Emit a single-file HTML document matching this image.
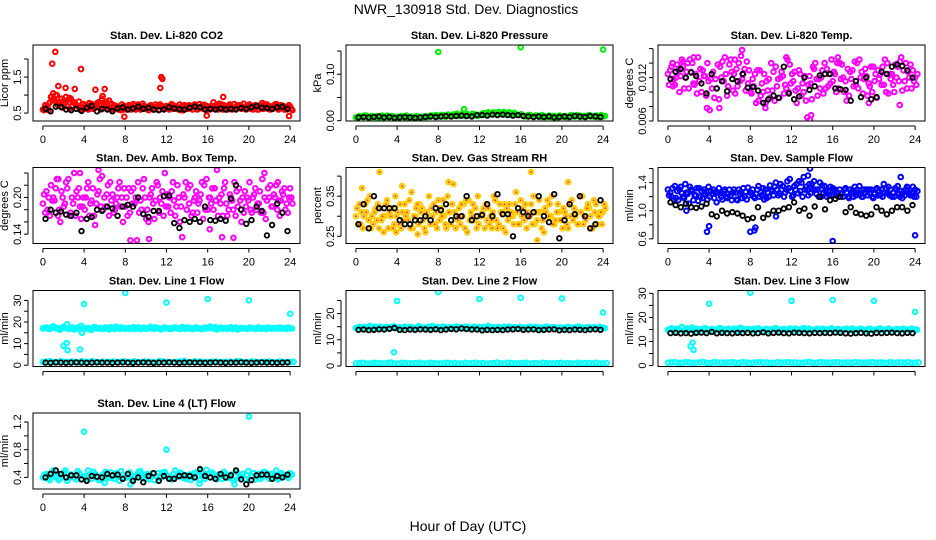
<!DOCTYPE html>
<html><head><meta charset="utf-8"><style>
html,body{margin:0;padding:0;background:#fff}
svg{display:block;font-family:"Liberation Sans",sans-serif}
</style></head><body>
<svg id="chart" width="936" height="540" viewBox="0 0 936 540">
<text x="466" y="14" font-size="14" text-anchor="middle">NWR_130918  Std. Dev. Diagnostics</text>
<text x="468" y="531" font-size="14" text-anchor="middle">Hour of Day (UTC)</text>
</svg>
<script>
// ---- data ----
const hourTicks = [0,4,8,12,16,20,24];
const co2Red = [0.6,0.65,0.8,0.9,1.0,0.75,0.85,0.7,0.9,0.8,0.7,0.65, 0.7,0.6,0.75,0.65,0.8,0.9,0.7,0.85,0.6,0.7,0.65,0.6, 0.6,0.7,0.75,0.65,0.6,0.7,0.65,0.72,0.6,0.68,0.7,0.62, 0.65,0.75,0.7,0.6,0.7,0.65,0.72,0.6,0.68,0.75,0.62,0.7, 0.6,0.8,0.7,0.65,0.72,0.6,0.68,0.75,0.7,0.62,0.65,0.7, 0.65,0.72,0.6,0.78,0.68,0.7,0.62,0.75,0.65,0.7,0.6,0.68];
const co2Red2 = [0.58,0.7,0.95,0.85,0.72,0.9,0.78,0.88,0.68,0.75,0.82,0.6, 0.65,0.78,0.62,0.7,0.74,0.66,0.8,0.62,0.72,0.66,0.58,0.7, 0.66,0.6,0.7,0.74,0.63,0.68,0.58,0.66,0.74,0.6,0.64,0.7, 0.6,0.68,0.62,0.74,0.58,0.7,0.64,0.72,0.6,0.66,0.73,0.6, 0.7,0.64,0.6,0.74,0.66,0.7,0.6,0.64,0.72,0.68,0.6,0.74, 0.6,0.66,0.72,0.62,0.74,0.6,0.7,0.64,0.72,0.6,0.66,0.62];
const co2Red3 = [0.72,0.58,0.85,1.0,0.8,0.65,0.95,0.62,0.8,0.7,0.6,0.75, 0.62,0.72,0.66,0.78,0.6,0.74,0.62,0.76,0.68,0.6,0.74,0.66, 0.72,0.64,0.6,0.7,0.76,0.62,0.7,0.6,0.68,0.74,0.62,0.66, 0.72,0.62,0.66,0.58,0.72,0.62,0.68,0.74,0.62,0.7,0.6,0.66, 0.64,0.72,0.76,0.6,0.68,0.74,0.62,0.7,0.64,0.76,0.68,0.62, 0.7,0.6,0.66,0.74,0.62,0.68,0.74,0.6,0.7,0.64,0.72,0.58];
const co2RedOutX = [1.2,0.9,3.7,11.5,11.6,11.4,3.1,2.2,1.5,5.1,6.0,7.9,15.9,23.9,17.5,0.8,1.0,2.6,5.8];
const co2RedOutY = [2.2,1.87,1.72,1.5,1.45,1.2,1.17,1.2,1.25,1.15,1.17,0.4,0.43,0.42,0.95,0.95,1.05,0.92,0.97];
const co2Black = [0.62,0.55,0.68,0.67,0.6,0.58,0.62,0.56,0.65,0.7,0.55,0.62,0.6,0.55,0.63,0.66,0.6,0.63,0.68,0.62,0.65,0.6,0.58,0.6,0.66,0.63,0.61,0.6,0.65,0.68,0.66,0.6,0.62,0.6,0.63,0.6,0.62,0.6,0.64,0.62,0.66,0.7,0.65,0.64,0.62,0.66,0.68,0.62];

const presGreen = [0.007,0.01,0.008,0.011,0.006,0.009,0.01,0.007,0.008,0.011,0.009,0.006, 0.008,0.01,0.007,0.006,0.009,0.005,0.008,0.007,0.01,0.009,0.011,0.012, 0.01,0.012,0.009,0.011,0.013,0.015,0.01,0.012,0.014,0.011,0.012,0.01, 0.013,0.016,0.018,0.014,0.017,0.019,0.016,0.014,0.018,0.015,0.013,0.012, 0.011,0.01,0.012,0.009,0.011,0.008,0.01,0.009,0.008,0.01,0.007,0.009, 0.01,0.008,0.012,0.009,0.011,0.01,0.008,0.012,0.009,0.011,0.01,0.009];
const presGreen2 = [0.006,0.009,0.011,0.007,0.01,0.008,0.006,0.011,0.009,0.007,0.01,0.008, 0.006,0.009,0.011,0.008,0.007,0.01,0.006,0.009,0.008,0.011,0.01,0.009, 0.012,0.009,0.013,0.01,0.011,0.012,0.014,0.01,0.012,0.015,0.013,0.012, 0.016,0.014,0.015,0.018,0.013,0.016,0.019,0.015,0.014,0.017,0.012,0.014, 0.009,0.012,0.01,0.011,0.009,0.012,0.008,0.011,0.01,0.008,0.011,0.009, 0.008,0.011,0.009,0.012,0.008,0.01,0.011,0.009,0.01,0.008,0.012,0.01];
const presGreenOutX = [8,16,24,10.5];
const presGreenOutY = [0.148,0.158,0.153,0.025];
const presBlack = [0.007,0.008,0.007,0.008,0.009,0.007,0.008,0.006,0.007,0.008,0.007,0.006,0.007,0.008,0.009,0.008,0.009,0.01,0.009,0.01,0.011,0.01,0.009,0.012,0.012,0.011,0.013,0.012,0.013,0.012,0.011,0.012,0.01,0.009,0.008,0.009,0.008,0.009,0.007,0.008,0.009,0.008,0.01,0.009,0.008,0.01,0.009,0.008];

const tempMag = [.0125,.0135,.011,.013,.0145,.012,.0105,.014,.0125,.0115,.013,.0095, .0075,.0128,.0105,.0135,.0115,.0095,.0145,.0125,.0108,.015,.0132,.0112, .0098,.0125,.0088,.0112,.0078,.0118,.0102,.0135,.0092,.0122,.0105,.0138, .0115,.0085,.0125,.0100,.0065,.0112,.0132,.0095,.0120,.0140,.0108,.0145, .0125,.0105,.0138,.0115,.0095,.0130,.0110,.0145,.0098,.0122,.0108,.0135, .0092,.0125,.0110,.0140,.0118,.0100,.0135,.0148,.0115,.0128,.0105,.0120];
const tempMag2 = [.0110,.0140,.0120,.0100,.0135,.0128,.0145,.0112,.0098,.0132,.0122,.0140, .0118,.0092,.0138,.0120,.0148,.0108,.0128,.0098,.0140,.0118,.0102,.0130, .0118,.0085,.0130,.0100,.0115,.0092,.0128,.0108,.0120,.0098,.0145,.0112, .0128,.0105,.0095,.0122,.0110,.0090,.0140,.0118,.0130,.0105,.0125,.0115, .0100,.0140,.0120,.0088,.0128,.0108,.0140,.0120,.0118,.0095,.0135,.0115, .0130,.0110,.0145,.0098,.0125,.0138,.0115,.0102,.0140,.0120,.0130,.0110];
const tempMag3 = [.0130,.0118,.0138,.0122,.0105,.0140,.0128,.0110,.0148,.0100,.0122,.0115, .0105,.0118,.0090,.0142,.0125,.0138,.0102,.0132,.0115,.0125,.0142,.0100, .0108,.0130,.0095,.0125,.0102,.0140,.0088,.0118,.0128,.0110,.0100,.0125, .0102,.0130,.0112,.0088,.0122,.0135,.0118,.0105,.0098,.0132,.0112,.0128, .0140,.0118,.0100,.0132,.0118,.0142,.0105,.0128,.0132,.0112,.0100,.0125, .0118,.0135,.0100,.0125,.0110,.0120,.0142,.0130,.0105,.0138,.0115,.0125];
const tempMagOutX = [13.8,3.8,5,7.2,13.9,2.5,6.5,9.5,16.5,19.5,22.5,0.5,1.5,11.5];
const tempMagOutY = [0.0062,0.0078,0.0078,0.0158,0.0068,0.0148,0.0145,0.0085,0.0148,0.0085,0.0082,0.0108,0.0142,0.0148];
const tempBlack = [.0118,.0128,.0132,.0120,.0127,.0122,.0112,.0098,.0125,.0105,.0115,.0101,.0118,.0115,.0125,.0106,.0107,.0102,.0085,.0090,.0095,.0092,.0135,.0098,.0090,.0094,.0120,.0103,.0108,.0123,.0125,.0125,.0105,.0104,.0103,.0088,.0115,.0093,.0120,.0090,.0093,.0128,.0125,.0135,.0138,.0136,.0130,.0120];

const boxMag = [.19,.21,.17,.2,.23,.16,.185,.215,.175,.24,.2,.165, .18,.225,.195,.155,.21,.235,.185,.17,.205,.19,.225,.16, .2,.175,.215,.13,.195,.23,.18,.205,.165,.22,.19,.24, .185,.21,.17,.2,.135,.225,.19,.175,.21,.195,.165,.23, .2,.18,.245,.19,.215,.17,.2,.225,.185,.16,.21,.195, .175,.215,.19,.23,.165,.2,.185,.22,.17,.205,.19,.215];
const boxMag2 = [.205,.18,.22,.195,.17,.21,.19,.23,.2,.17,.215,.185, .2,.17,.215,.19,.23,.18,.205,.225,.175,.2,.185,.215, .17,.21,.19,.225,.18,.2,.16,.215,.195,.175,.21,.185, .2,.225,.185,.16,.205,.18,.22,.195,.175,.205,.22,.18, .19,.215,.17,.205,.225,.18,.195,.17,.215,.2,.185,.225, .2,.18,.21,.175,.195,.22,.205,.18,.195,.215,.175,.2];
const boxMag3 = [.175,.2,.195,.215,.18,.2,.225,.17,.19,.21,.185,.2, .215,.19,.17,.205,.185,.2,.22,.195,.18,.215,.2,.185, .215,.19,.2,.175,.215,.165,.2,.19,.225,.2,.17,.205, .175,.195,.22,.185,.2,.215,.17,.2,.19,.225,.18,.2, .215,.195,.2,.17,.19,.205,.18,.21,.195,.175,.2,.18, .205,.19,.175,.2,.215,.185,.2,.195,.21,.18,.2,.19];
const boxMagOutX = [10.3,17.4,5.4,3.6,1.5,8.5,18.5,21.5,22.8,16.2];
const boxMagOutY = [0.132,0.135,0.245,0.24,0.23,0.13,0.134,0.24,0.225,0.148];
const boxBlack = [.165,.18,.175,.177,.172,.17,.175,.145,.165,.168,.18,.178,.185,.182,.17,.185,.188,.185,.2,.173,.168,.178,.178,.202,.203,.158,.15,.163,.16,.165,.16,.185,.163,.162,.165,.162,.198,.22,.18,.157,.163,.185,.178,.138,.155,.19,.175,.145];

const rhOrange = [.3,.33,.27,.31,.35,.28,.29,.32,.26,.34,.3,.28, .31,.27,.33,.29,.36,.3,.28,.32,.26,.35,.3,.31, .29,.34,.27,.31,.38,.3,.28,.33,.26,.31,.29,.35, .3,.27,.32,.29,.34,.28,.31,.26,.33,.3,.36,.28, .32,.27,.3,.35,.29,.31,.26,.34,.3,.28,.33,.29, .31,.27,.34,.3,.28,.35,.29,.32,.27,.33,.3,.31];
const rhOrange2 = [.32,.28,.3,.34,.27,.31,.33,.29,.3,.27,.32,.35, .28,.31,.3,.34,.27,.32,.33,.29,.31,.28,.33,.27, .32,.3,.35,.28,.31,.29,.33,.27,.34,.3,.32,.28, .31,.33,.28,.31,.29,.33,.27,.32,.3,.28,.31,.34, .29,.31,.33,.28,.31,.27,.32,.3,.35,.29,.31,.27, .3,.33,.29,.31,.35,.28,.32,.3,.34,.28,.31,.33];
const rhOrange3 = [.28,.31,.33,.29,.3,.32,.27,.3,.33,.31,.27,.3, .33,.29,.31,.27,.3,.33,.31,.27,.3,.32,.28,.34, .3,.28,.31,.33,.27,.32,.3,.34,.29,.33,.27,.3, .32,.29,.3,.35,.27,.31,.33,.29,.31,.33,.28,.3, .33,.3,.28,.31,.34,.29,.31,.33,.28,.31,.29,.32, .28,.3,.32,.28,.31,.3,.33,.27,.31,.3,.28,.32];
const rhOrangeOutX = [2.3,17,9,17.6,3.9,0.6,4.5,20.6,6.0,13.2];
const rhOrangeOutY = [0.41,0.41,0.385,0.24,0.26,0.37,0.375,0.385,0.255,0.27];
const rhBlack = [.28,.33,.27,.35,.32,.32,.32,.32,.29,.28,.28,.29,.29,.3,.29,.32,.315,.33,.29,.30,.30,.35,.29,.3,.303,.33,.30,.355,.305,.305,.25,.32,.31,.30,.31,.35,.30,.285,.355,.245,.29,.33,.305,.35,.30,.27,.28,.34];

const flowBlue = [1.3,1.2,1.35,1.15,1.25,1.38,1.1,1.28,1.22,1.32,1.18,1.27, 1.2,1.3,1.12,1.25,1.28,1.18,1.22,1.3,1.15,1.27,1.2,1.33, 1.25,1.18,1.35,1.22,1.3,1.2,1.28,1.4,1.25,1.35,1.3,1.45, 1.22,1.38,1.28,1.48,1.3,1.25,1.42,1.3,1.2,1.35,1.28,1.22, 1.3,1.2,1.25,1.32,1.18,1.28,1.22,1.35,1.2,1.3,1.25,1.18, 1.32,1.22,1.38,1.25,1.3,1.2,1.35,1.28,1.22,1.33,1.25,1.3];
const flowBlue2 = [1.22,1.32,1.18,1.3,1.2,1.26,1.34,1.15,1.32,1.2,1.3,1.16, 1.28,1.18,1.26,1.2,1.3,1.24,1.15,1.26,1.3,1.18,1.27,1.22, 1.3,1.24,1.2,1.32,1.18,1.36,1.22,1.3,1.38,1.2,1.42,1.28, 1.35,1.25,1.4,1.3,1.22,1.38,1.3,1.2,1.36,1.28,1.22,1.32, 1.22,1.3,1.2,1.26,1.3,1.2,1.3,1.24,1.3,1.22,1.3,1.24, 1.22,1.3,1.26,1.34,1.2,1.32,1.24,1.18,1.3,1.24,1.34,1.2];
const flowBlue3 = [1.26,1.16,1.28,1.34,1.18,1.24,1.3,1.22,1.14,1.28,1.24,1.34, 1.24,1.26,1.32,1.16,1.2,1.3,1.26,1.16,1.24,1.32,1.16,1.26, 1.2,1.3,1.26,1.16,1.26,1.3,1.34,1.22,1.3,1.26,1.32,1.2, 1.3,1.42,1.2,1.34,1.38,1.3,1.24,1.4,1.26,1.2,1.34,1.3, 1.26,1.24,1.3,1.2,1.26,1.34,1.26,1.2,1.26,1.3,1.2,1.3, 1.28,1.2,1.32,1.22,1.26,1.3,1.2,1.26,1.34,1.22,1.2,1.28];
const flowBlueOutX = [3.8,4,8,8.4,8.5,16,24,13.8,10.5,1.8,13.6,22.6];
const flowBlueOutY = [0.7,0.78,0.7,0.72,0.76,0.57,0.65,1.6,0.92,1.0,1.5,1.48];
const flowBlack = [1.12,1.08,1.05,1.1,1.05,1.04,1.06,1.1,0.95,0.92,1.0,0.96,0.98,0.96,0.93,0.88,0.9,1.05,0.9,0.95,1.0,1.0,1.03,1.05,1.12,1.0,1.03,0.93,1.06,1.2,1.02,1.15,1.17,1.2,0.98,1.05,0.97,0.95,0.93,0.95,1.05,1.0,0.95,1.0,1.05,1.05,1.0,1.08];

const line1High = [17,17.5,16.8,18,17.2,16.5,17.8,19,17.1,16.6,17.4,18.2, 16.9,17.3,16.4,17.7,17,16.8,17.5,16.6,17.2,17.9,16.9,17.3, 17,16.7,17.6,17.1,16.8,17.4,17,17.8,16.9,17.2,16.6,17.5, 17.1,16.8,17.4,17,17.7,16.9,17.3,16.7,17.5,17.1,16.8,17.3, 17.9,17,16.6,17.4,17.1,16.8,17.6,17,16.5,17.3,17.1,16.9, 17.2,16.8,17.5,17,16.7,17.3,17.1,16.9,17.4,17,16.8,17.1];
const line1High2 = [17.3,16.9,17.6,17.1,16.7,17.4,17.2,16.8,17.5,17,16.7,17.3, 17.1,16.6,17.5,17,17.3,16.9,17.2,17.6,16.8,17,17.4,16.9, 17.3,17.1,16.8,17.5,17,16.9,17.3,17,17.5,16.8,17.2,17, 16.9,17.4,17.1,16.7,17.2,17.5,16.9,17.3,17,16.8,17.4,17.1, 17.2,17.6,17,16.9,17.3,17.2,16.8,17.4,17,17.2,16.8,17.4, 17,17.3,16.9,17.2,17.4,16.9,17.2,17.3,16.9,17.2,17.4,17];
const line1Low = [1.5,1.8,1.4,1.6,1.7,1.3,1.6,1.9,1.4,1.5,1.7,1.6,1.4,1.8,1.5,1.6,1.3,1.7,1.5,1.6,2.0,1.4,1.6,1.5,1.7,1.4,1.6,1.5,1.8,1.4,1.6,1.5,1.7,1.4,1.6,1.5];
const line1Low2 = [1.7,1.4,1.9,1.5,1.6,1.8,1.5,1.4,1.7,1.6,1.5,1.8,1.6,1.4,1.7,1.5,1.9,1.6,1.4,1.7,1.5,1.8,1.6,1.4,1.7,1.5,1.6,1.8,1.4,1.7,1.5,1.6,1.4,1.7,1.5,1.6];
const line1OutX = [4,8,12,16,20,24,2.0,2.3,2.4,3.6,3.8];
const line1OutY = [28.3,33.5,29,30.6,30,23.8,9,10.3,6.9,7.3,15];
const line1Black = [1.2,1.1,1.3,1.2,1.1,1.2,1.3,1.2,1.1,1.2,1.3,1.2,1.2,1.1,1.2,1.3,1.2,1.1,1.2,1.3,1.2,1.1,1.2,1.2,1.3,1.2,1.1,1.2,1.3,1.2,1.2,1.1,1.2,1.3,1.2,1.1,1.2,1.2,1.3,1.2,1.1,1.2,1.3,1.2,1.2,1.1,1.2,1.3];

const line2High = [14.5,15,14.2,14.8,15.2,14.4,14.6,15,14.3,14.9,14.5,15.1, 14.4,14.7,15,14.3,14.8,14.5,15.2,14.6,14.4,14.9,15.3,14.5, 14.7,15,14.4,14.8,14.5,15.1,14.6,14.3,14.9,14.5,15,14.7, 14.4,14.8,15.3,14.5,14.7,14.9,14.4,14.8,15,14.6,14.5,14.9, 14.7,14.4,15,14.6,14.8,14.5,14.3,14.9,14.6,14.8,14.4,14.7, 14.5,14.9,14.6,14.4,15,14.7,14.5,14.8,14.6,14.4,14.9,14.6];
const line2High2 = [14.7,14.4,14.9,14.6,14.3,15,14.7,14.5,14.8,14.6,15,14.4, 14.8,14.5,14.6,14.9,14.4,14.7,14.9,14.5,14.8,14.6,14.4,14.8, 14.5,14.8,14.6,14.4,14.9,14.6,14.8,15,14.5,14.7,14.4,14.8, 14.9,14.6,14.5,14.8,14.6,14.4,14.9,14.6,14.4,14.8,14.7,14.5, 14.6,14.8,14.5,14.9,14.4,14.7,14.9,14.5,14.8,14.4,14.7,14.5, 14.8,14.5,14.7,14.9,14.5,14.4,14.8,14.6,14.8,14.5,14.7,14.4];
const line2Low = [1.0,1.2,0.9,1.1,1.0,1.3,0.9,1.1,1.0,1.2,0.9,1.1,1.0,1.2,1.1,0.9,1.0,1.2,1.1,1.0,1.3,0.9,1.1,1.0,1.2,1.0,0.9,1.1,1.0,1.2,1.1,0.9,1.0,1.1,1.2,1.0];
const line2Low2 = [1.1,0.9,1.2,1.0,1.1,0.9,1.2,1.0,1.1,1.0,1.2,0.9,1.1,1.0,0.9,1.2,1.1,1.0,0.9,1.1,1.0,1.2,1.0,1.1,0.9,1.1,1.2,1.0,1.1,0.9,1.0,1.2,1.1,1.0,0.9,1.1];
const line2OutX = [4,8,12,16,20,24,3.7];
const line2OutY = [24.8,28.2,25.5,26,25.8,20.4,5.2];
const line2Black = [13.8,13.9,13.7,13.8,14,13.9,14.2,14.5,13.8,13.7,13.9,13.8,14,13.9,13.8,14,13.7,13.9,14.1,14,14.3,14.1,13.9,13.9,13.6,13.8,13.7,13.8,13.7,13.9,14,14.1,13.8,13.9,14,13.7,13.8,13.9,14,13.6,13.8,13.7,13.9,13.8,13.7,13.9,14,13.8];

const line3High = [14.8,15.5,14.2,15,16,14.5,14.9,15.8,14.3,15.2,14.6,15.4, 14.4,15.1,14.7,15.6,14.2,15,14.8,15.3,14.5,15.7,14.6,15.1, 14.9,14.3,15.5,14.7,15.2,14.4,15,15.6,14.6,15.1,14.8,15.4, 14.5,15.2,14.7,15.6,14.4,15,14.8,15.3,14.6,15.1,14.9,15.5, 14.7,15.2,14.5,15,14.8,15.4,14.6,15.1,14.9,14.4,15.3,14.7, 14.8,15.4,14.6,15.1,14.9,14.5,15.2,14.7,15,14.8,15.3,14.6];
const line3High2 = [15.1,14.6,15.3,14.9,14.4,15.5,15,14.7,15.2,14.8,15.5,14.5, 15.2,14.8,15.4,14.6,15.1,15.3,14.7,15,15.5,14.6,15.2,14.8, 15.3,14.8,15,14.5,15.2,14.9,15.4,14.6,15,15.2,14.7,15.1, 15.3,14.7,15.1,14.8,15.4,14.7,15.1,14.9,15.3,14.6,15.2,14.8, 15.2,14.6,15.1,15.3,14.7,15,14.9,15.3,14.7,15.2,14.8,15, 15.3,14.7,15,15.3,14.6,15.1,14.8,15.3,15,14.6,15.1,14.9];
const line3Low = [1.2,1.4,1.1,1.3,1.2,1.5,1.1,1.3,1.2,1.4,1.1,1.3,1.2,1.4,1.3,1.1,1.2,1.4,1.3,1.2,1.5,1.1,1.3,1.2,1.4,1.2,1.1,1.3,1.2,1.4,1.3,1.1,1.2,1.3,1.4,1.2];
const line3Low2 = [1.3,1.1,1.4,1.2,1.3,1.1,1.4,1.2,1.3,1.2,1.4,1.1,1.3,1.2,1.1,1.4,1.3,1.2,1.1,1.3,1.2,1.4,1.2,1.3,1.1,1.3,1.4,1.2,1.3,1.1,1.2,1.4,1.3,1.2,1.1,1.3];
const line3OutX = [4,8,12,16,20,24,2.2,2.4,2.5];
const line3OutY = [25.7,30.3,26.9,27.3,26.9,22.3,8,9.5,6.5];
const line3Black = [13.5,13.6,13.4,13.5,13.3,13.6,13.7,13.5,14,13.4,13.6,13.5,13.4,13.6,13.5,13.6,13.4,13.5,13.8,13.4,13.6,13.7,13.5,13.4,13.7,13.6,13.5,13.4,13.6,13.5,13.6,13.5,13.7,13.6,13.4,13.3,13.5,13.6,13.4,13.3,13.6,13.5,13.6,13.7,13.5,13.4,13.6,13.5];

const line4Cyan = [0.4,0.45,0.36,0.5,0.42,0.38,0.47,0.35,0.44,0.4,0.49,0.37, 0.42,0.5,0.38,0.45,0.36,0.43,0.48,0.39,0.41,0.46,0.35,0.44, 0.4,0.47,0.37,0.43,0.49,0.38,0.45,0.41,0.36,0.46,0.4,0.48, 0.42,0.37,0.5,0.41,0.45,0.38,0.44,0.4,0.47,0.36,0.43,0.51, 0.4,0.45,0.37,0.42,0.48,0.39,0.44,0.36,0.46,0.41,0.38,0.49, 0.42,0.37,0.45,0.4,0.47,0.38,0.43,0.5,0.39,0.44,0.41,0.46];
const line4Cyan2 = [0.44,0.38,0.47,0.41,0.36,0.45,0.5,0.39,0.43,0.37,0.46,0.42, 0.38,0.44,0.48,0.4,0.36,0.45,0.41,0.47,0.38,0.43,0.49,0.4, 0.45,0.38,0.42,0.48,0.4,0.44,0.37,0.46,0.42,0.39,0.47,0.43, 0.38,0.45,0.41,0.47,0.39,0.43,0.36,0.46,0.42,0.49,0.38,0.44, 0.47,0.4,0.44,0.38,0.45,0.42,0.37,0.48,0.4,0.45,0.43,0.36, 0.46,0.41,0.38,0.48,0.42,0.45,0.4,0.37,0.46,0.42,0.39,0.44];
const line4OutX = [4,12,20,8.5,18.6,6,15.2];
const line4OutY = [1.06,0.8,1.28,0.3,0.3,0.32,0.31];
const line4Black = [0.4,0.45,0.5,0.45,0.4,0.43,0.43,0.37,0.35,0.42,0.41,0.4,0.45,0.43,0.44,0.38,0.45,0.35,0.4,0.33,0.42,0.46,0.35,0.42,0.38,0.38,0.42,0.43,0.42,0.4,0.52,0.42,0.4,0.38,0.45,0.4,0.43,0.5,0.37,0.3,0.36,0.43,0.44,0.44,0.38,0.42,0.4,0.44];

// ---- rendering ----
const NS = "http://www.w3.org/2000/svg";
const svg = document.getElementById("chart");
const colL = [33, 346, 658], rowT = [45, 167.5, 290.5, 413], BW = 267, BH = 76;
function mk(tag, attrs, parent){ const e=document.createElementNS(NS,tag); for(const k in attrs) e.setAttribute(k,attrs[k]); (parent||svg).appendChild(e); return e; }

function panel(cfg){
  const L=colL[cfg.c], T=rowT[cfg.r];
  const g=mk("g",{});
  
  
  const xs = h => L + BW*(h+0.96)/25.92;
  const ys = v => T + BH*(cfg.yMax-v)/(cfg.yMax-cfg.yMin);
  const clip = mk("clipPath",{id:"cl"+cfg.name},g);
  mk("rect",{x:L,y:T,width:BW,height:BH},clip);
  const pts = mk("g",{"clip-path":"url(#cl"+cfg.name+")"},g);
  function dot(x,y,color,sw,nm,inner){
    const c=mk("circle",{cx:xs(x).toFixed(1),cy:ys(y).toFixed(1),r:2.3,fill:"none",stroke:color,"stroke-width":sw},pts);
    
    
    if(inner){ const d=mk("circle",{cx:xs(x).toFixed(1),cy:ys(y).toFixed(1),r:1,fill:inner},pts);
      
       }
  }
  cfg.dense.forEach(group=>{
    group.forEach((vals,k)=>{
      const step = 24/(vals.length-1);
      const shift = k*step/group.length;
      vals.forEach((v,i)=>dot(i*step+shift,v,cfg.color,2,cfg.name+'-point',cfg.inner));
    });
  });
  cfg.outX.forEach((x,i)=>dot(x,cfg.outY[i],cfg.color,2,cfg.name+'-outlier',cfg.inner));
  cfg.black.forEach((v,i)=>dot(0.25+i*0.5,v,"#000",1.8,cfg.name+'-black-point'));
  const box=mk("rect",{x:L,y:T,width:BW,height:BH,fill:"none",stroke:"#000","stroke-width":1},g);
  
  
  const t=mk("text",{x:L+BW/2,y:T-6,"font-size":11,"font-weight":"bold","text-anchor":"middle"},g);
  t.textContent=cfg.title;
  
  
  mk("line",{x1:xs(0),x2:xs(24),y1:T+BH+5,y2:T+BH+5,stroke:"#000"},g);
  hourTicks.forEach(h=>{
    mk("line",{x1:xs(h),x2:xs(h),y1:T+BH+5,y2:T+BH+9,stroke:"#000"},g);
    if(cfg.xlab){ const tl=mk("text",{x:xs(h),y:T+BH+22,"font-size":11,"text-anchor":"middle"},g);
      tl.textContent=h;
      
       }
  });
  const yt=cfg.yTicks;
  mk("line",{x1:L-5,x2:L-5,y1:ys(yt[0]),y2:ys(yt[yt.length-1]),stroke:"#000"},g);
  yt.forEach(v=>mk("line",{x1:L-9,x2:L-5,y1:ys(v),y2:ys(v),stroke:"#000"},g));
  cfg.yLabels.forEach((lab,i)=>{
    const y=ys(cfg.yLabelVals[i]);
    const tl=mk("text",{x:L-12,y:y,"font-size":11,"text-anchor":"middle",transform:`rotate(-90 ${L-12} ${y})`},g);
    tl.textContent=lab;
    
    
  });
  const yl=mk("text",{x:L-25,y:T+BH/2,"font-size":11,"text-anchor":"middle",transform:`rotate(-90 ${L-25} ${T+BH/2})`},g);
  yl.textContent=cfg.ylab;
  
  
}

panel({name:"co2",r:0,c:0,title:"Stan. Dev. Li-820 CO2",ylab:"Licor ppm",color:"#ff0000",yMin:0.28,yMax:2.39,yTicks:[0.5,1,1.5,2],yLabels:["0.5","1.5"],yLabelVals:[0.5,1.5],dense:[[co2Red,co2Red2,co2Red3]],outX:co2RedOutX,outY:co2RedOutY,black:co2Black,xlab:true});
panel({name:"pressure",r:0,c:1,title:"Stan. Dev. Li-820 Pressure",ylab:"kPa",color:"#00ee00",yMin:-0.0007,yMax:0.163,yTicks:[0,0.05,0.1,0.15],yLabels:["0.00","0.10"],yLabelVals:[0,0.1],dense:[[presGreen,presGreen2]],outX:presGreenOutX,outY:presGreenOutY,black:presBlack,xlab:true});
panel({name:"temp",r:0,c:2,title:"Stan. Dev. Li-820 Temp.",ylab:"degrees C",color:"#ff00ff",yMin:0.006,yMax:0.0165,yTicks:[0.006,0.008,0.01,0.012,0.014,0.016],yLabels:["0.006","0.012"],yLabelVals:[0.006,0.012],dense:[[tempMag,tempMag2,tempMag3]],outX:tempMagOutX,outY:tempMagOutY,black:tempBlack,xlab:true});
panel({name:"ambbox",r:1,c:0,title:"Stan. Dev. Amb. Box Temp.",ylab:"degrees C",color:"#ff00ff",yMin:0.1247,yMax:0.249,yTicks:[0.14,0.16,0.18,0.2,0.22,0.24],yLabels:["0.14","0.20"],yLabelVals:[0.14,0.2],dense:[[boxMag,boxMag2,boxMag3]],outX:boxMagOutX,outY:boxMagOutY,black:boxBlack,xlab:true});
panel({name:"rh",r:1,c:1,title:"Stan. Dev. Gas Stream RH",ylab:"percent",color:"#ffcc00",inner:"#ff3300",yMin:0.232,yMax:0.4215,yTicks:[0.25,0.3,0.35,0.4],yLabels:["0.25","0.35"],yLabelVals:[0.25,0.35],dense:[[rhOrange,rhOrange2,rhOrange3]],outX:rhOrangeOutX,outY:rhOrangeOutY,black:rhBlack,xlab:true});
panel({name:"sampleflow",r:1,c:2,title:"Stan. Dev. Sample Flow",ylab:"ml/min",color:"#0000ff",yMin:0.534,yMax:1.615,yTicks:[0.6,0.8,1.0,1.2,1.4,1.6],yLabels:["0.6","1.0","1.4"],yLabelVals:[0.6,1.0,1.4],dense:[[flowBlue,flowBlue2,flowBlue3]],outX:flowBlueOutX,outY:flowBlueOutY,black:flowBlack,xlab:true});
panel({name:"line1",r:2,c:0,title:"Stan. Dev. Line 1 Flow",ylab:"ml/min",color:"#00ffff",yMin:-0.6,yMax:34.6,yTicks:[0,5,10,15,20,25,30],yLabels:["0","10","20","30"],yLabelVals:[0,10,20,30],dense:[[line1High,line1High2],[line1Low,line1Low2]],outX:line1OutX,outY:line1OutY,black:line1Black,xlab:false});
panel({name:"line2",r:2,c:1,title:"Stan. Dev. Line 2 Flow",ylab:"ml/min",color:"#00ffff",yMin:-0.2,yMax:28.8,yTicks:[0,5,10,15,20,25],yLabels:["0","10","20"],yLabelVals:[0,10,20],dense:[[line2High,line2High2],[line2Low,line2Low2]],outX:line2OutX,outY:line2OutY,black:line2Black,xlab:false});
panel({name:"line3",r:2,c:2,title:"Stan. Dev. Line 3 Flow",ylab:"ml/min",color:"#00ffff",yMin:-0.4,yMax:31.2,yTicks:[0,5,10,15,20,25,30],yLabels:["0","10","20","30"],yLabelVals:[0,10,20,30],dense:[[line3High,line3High2],[line3Low,line3Low2]],outX:line3OutX,outY:line3OutY,black:line3Black,xlab:false});
panel({name:"line4",r:3,c:0,title:"Stan. Dev. Line 4 (LT) Flow",ylab:"ml/min",color:"#00ffff",yMin:0.232,yMax:1.33,yTicks:[0.4,0.6,0.8,1.0,1.2],yLabels:["0.4","0.8","1.2"],yLabelVals:[0.4,0.8,1.2],dense:[[line4Cyan,line4Cyan2]],outX:line4OutX,outY:line4OutY,black:line4Black,xlab:true});
</script>
</body></html>
